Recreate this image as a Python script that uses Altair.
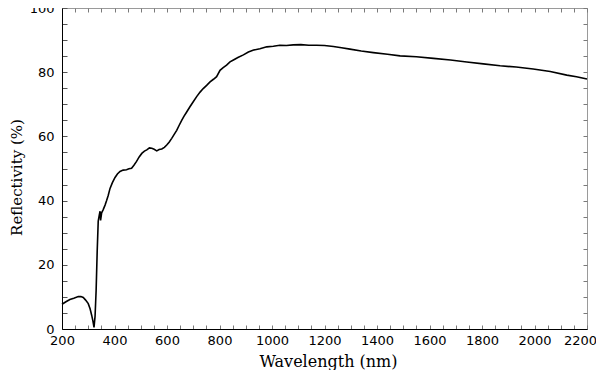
import altair as alt
import pandas as pd

# Wavelength (nm) and reflectivity (%)
wavelength = [200, 215, 230, 245, 262, 272, 281, 290, 300, 307, 313, 318, 322, 326,
              330, 334, 338, 342, 345, 347, 351, 357, 364, 370, 376, 383, 392, 402,
              411, 421, 433, 446, 455, 465, 474, 484, 494, 504, 514, 523, 533, 542,
              551, 561, 570, 580, 590, 599, 608, 618, 628, 637, 646, 656, 665, 675,
              688, 700, 713, 726, 738, 751, 764, 777, 789, 802, 814, 827, 840, 853,
              870, 891, 910, 930, 954, 980, 1005, 1030, 1055, 1081, 1110, 1140, 1170,
              1200, 1234, 1265, 1297, 1340, 1386, 1440, 1488, 1550, 1615, 1680, 1742,
              1805, 1869, 1930, 1995, 2060, 2123, 2160, 2200]
reflectivity = [7.7, 8.5, 9.2, 9.6, 10.1, 10.1, 9.8, 9.0, 7.9, 6.3, 4.3, 2.4, 0.5, 4.0,
                12.0, 24.0, 33.6, 35.5, 36.7, 33.8, 36.2, 37.2, 38.6, 40.0, 41.6, 43.8, 45.6, 47.2,
                48.3, 49.1, 49.5, 49.6, 49.9, 50.1, 51.0, 52.2, 53.6, 54.7, 55.4, 55.8, 56.4, 56.3,
                56.0, 55.5, 55.9, 56.1, 56.6, 57.3, 58.2, 59.4, 60.7, 61.9, 63.4, 65.0, 66.3, 67.6,
                69.3, 70.8, 72.4, 73.8, 74.9, 75.9, 77.0, 77.8, 78.6, 80.6, 81.4, 82.2, 83.2, 83.8,
                84.6, 85.4, 86.3, 86.9, 87.3, 87.9, 88.1, 88.4, 88.3, 88.5, 88.6, 88.4, 88.4,
                88.3, 88.0, 87.6, 87.2, 86.6, 86.1, 85.6, 85.1, 84.8, 84.3, 83.8, 83.2,
                82.6, 82.0, 81.6, 81.0, 80.2, 79.1, 78.6, 77.9]

x_major = list(range(200, 2201, 200))
x_minor = list(range(200, 2201, 50))
y_major = list(range(0, 101, 20))
y_minor = list(range(0, 101, 5))

df = pd.DataFrame({"wl": wavelength, "r": reflectivity})

xs = alt.Scale(domain=[200, 2200], nice=False, zero=False)
ys = alt.Scale(domain=[0, 100], nice=False, zero=False)

TICK = "#7a7a7a"
FRAME = "#9a9a9a"

base = alt.Chart(df)

line = base.mark_line(color="black", strokeWidth=1.6, interpolate="linear").encode(
    x=alt.X("wl:Q", scale=xs, axis=alt.Axis(
        orient="bottom", values=x_major, ticks=False, grid=False, domain=True,
        domainColor="black", domainWidth=1, labelFont="DejaVu Sans", labelFontSize=13,
        labelColor="black", labelPadding=5, labelOverlap=False, labelFlush=False,
        labelOffset=alt.condition("datum.value == 2200", alt.value(-7), alt.value(0)),
        title="Wavelength (nm)", titleFont="DejaVu Serif", titleFontSize=16,
        titleFontWeight="normal", titleColor="black", titleX=266, titleY=37,
        titleAlign="center", titleBaseline="alphabetic", format="d", zindex=2)),
    y=alt.Y("r:Q", scale=ys, axis=alt.Axis(
        orient="left", values=y_major, ticks=False, grid=False, domain=True,
        domainColor="black", domainWidth=1, labelFont="DejaVu Sans", labelFontSize=13,
        labelColor="black", labelPadding=8, labelOverlap=False, labelFlush=False,
        title="Reflectivity (%)", titleFont="DejaVu Serif", titleFontSize=15,
        titleFontWeight="normal", titleColor="black", titleAngle=270, titleX=-41,
        titleY=169, titleAlign="center", titleBaseline="alphabetic", format="d", zindex=2)),
)

ticks_bl = base.mark_line(opacity=0).encode(
    x=alt.X("wl:Q", scale=xs, axis=alt.Axis(
        orient="bottom", values=x_minor, labels=False, domain=False, grid=False,
        ticks=True, tickSize=4, tickColor=TICK, offset=-4, title=None, zindex=1)),
    y=alt.Y("r:Q", scale=ys, axis=alt.Axis(
        orient="left", values=y_minor, labels=False, domain=False, grid=False,
        ticks=True, tickSize=5, tickColor="#555555", offset=-5, title=None, zindex=1)),
)

ticks_tr = base.mark_line(opacity=0).encode(
    x=alt.X("wl:Q", scale=xs, axis=alt.Axis(
        orient="top", values=x_minor, labels=False, domain=False, grid=False,
        ticks=True, tickSize=4, tickColor=TICK, offset=-4, title=None, zindex=1)),
    y=alt.Y("r:Q", scale=ys, axis=alt.Axis(
        orient="right", values=y_minor, labels=False, domain=False, grid=False,
        ticks=True, tickSize=4, tickColor=TICK, offset=-4, title=None, zindex=1)),
)

chart = alt.layer(line, ticks_bl, ticks_tr).resolve_axis(
    x="independent", y="independent"
).properties(
    width=525, height=321,
    autosize=alt.AutoSizeParams(type="none"),
    padding={"left": 54, "top": 0, "right": 9, "bottom": 41},
    background="white",
).configure_view(stroke=FRAME, strokeWidth=1)

chart.save("out.html", embed_options={"renderer": "svg", "actions": False})
